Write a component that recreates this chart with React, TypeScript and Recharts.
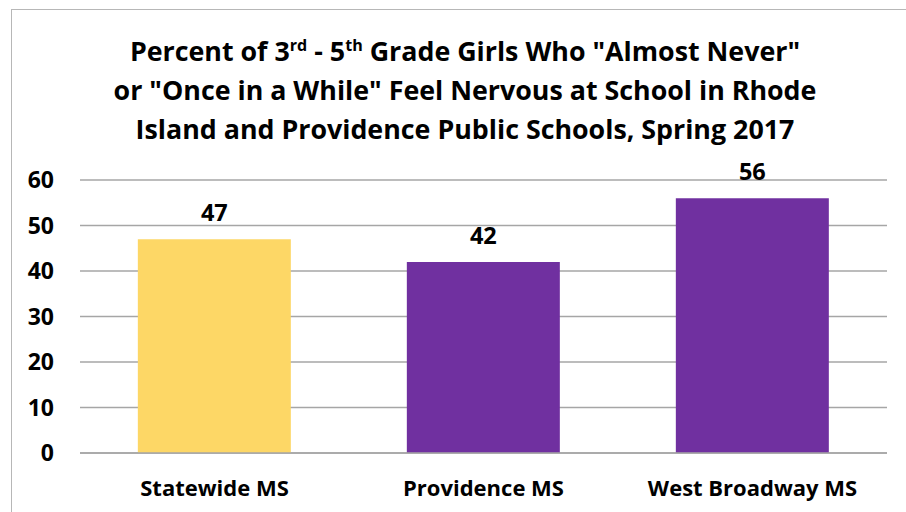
import React from 'react';
import { BarChart, Bar, XAxis, YAxis, CartesianGrid, LabelList, Cell } from 'recharts';

const categories = ['Statewide MS', 'Providence MS', 'West Broadway MS'];
const percents = [47, 42, 56];
const barColors = ['#FDD766', '#7030A0', '#7030A0'];
const yTicks = [0, 10, 20, 30, 40, 50, 60];

const data = categories.map((name, i) => ({ name, value: percents[i] }));

const FONT = '"Open Sans", Lato, sans-serif';

export default function App() {
  return (
    <div style={{ position: 'absolute', left: 0, top: 0, width: 906, height: 512, background: '#fff', overflow: 'hidden', fontFamily: FONT }}>
      <div style={{ position: 'absolute', left: 11, top: 9, width: 1000, height: 600, border: '1.5px solid #b7b7b7', boxSizing: 'border-box' }} />
      <div
        style={{
          position: 'absolute',
          left: 15,
          width: 900,
          top: 31,
          textAlign: 'center',
          fontWeight: 700,
          fontSize: 26.8,
          lineHeight: '39px',
          color: '#000',
        }}
      >
        <div>
          Percent of 3<sup style={{ fontSize: '0.6em', lineHeight: 0 }}>rd</sup> - 5<sup style={{ fontSize: '0.6em', lineHeight: 0 }}>th</sup> Grade Girls Who "Almost Never"
        </div>
        <div>or "Once in a While" Feel Nervous at School in Rhode</div>
        <div>Island and Providence Public Schools, Spring 2017</div>
      </div>
      <div style={{ position: 'absolute', left: 0, top: 0 }}>
        <BarChart
          width={906}
          height={512}
          data={data}
          margin={{ top: 180, right: 19, bottom: 0, left: 0 }}
          barCategoryGap="21.5%"
        >
          <CartesianGrid vertical={false} stroke="#a6a6a6" strokeWidth={1.3} />
          <XAxis
            dataKey="name"
            height={59}
            axisLine={{ stroke: '#a6a6a6', strokeWidth: 1.3 }}
            tickLine={false}
            tickSize={0}
            tickMargin={27}
            tick={{ fill: '#000', fontSize: 22, fontWeight: 700, fontFamily: FONT }}
          />
          <YAxis
            domain={[0, 60]}
            ticks={yTicks}
            width={80}
            axisLine={false}
            tickLine={false}
            tickSize={0}
            tickMargin={26}
            tick={{ fill: '#000', fontSize: 23, fontWeight: 700, fontFamily: FONT }}
          />
          <Bar dataKey="value" isAnimationActive={false}>
            {data.map((d, i) => (
              <Cell key={d.name} fill={barColors[i]} />
            ))}
            <LabelList
              dataKey="value"
              position="top"
              offset={18}
              style={{ fill: '#000', fontSize: 23.5, fontWeight: 700, fontFamily: FONT }}
            />
          </Bar>
        </BarChart>
      </div>
    </div>
  );
}
